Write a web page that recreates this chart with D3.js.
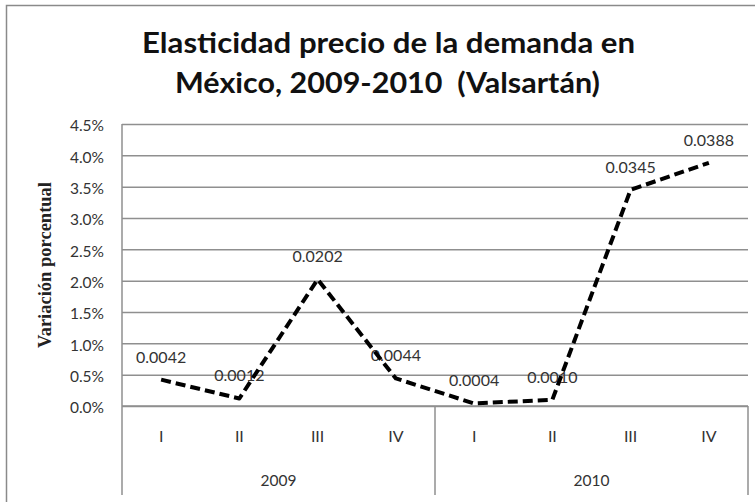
<!DOCTYPE html>
<html>
<head>
<meta charset="utf-8">
<script src="https://cdn.jsdelivr.net/npm/d3@7/dist/d3.min.js"></script>
<style>
  html, body { margin: 0; padding: 0; background: #fff; }
  svg { display: block; }
</style>
</head>
<body>
<script>
// Quarterly price elasticity of demand, Valsartán, Mexico 2009–2010
const years = ["2009", "2010"];
const quarters = ["I", "II", "III", "IV"];
const values = [0.0042, 0.0012, 0.0202, 0.0044, 0.0004, 0.0010, 0.0345, 0.0388];
const valueLabels = ["0.0042", "0.0012", "0.0202", "0.0044", "0.0004", "0.0010", "0.0345", "0.0388"];
const yTicks = [0, 0.005, 0.01, 0.015, 0.02, 0.025, 0.03, 0.035, 0.04, 0.045];
const titleLines = ["Elasticidad precio de la demanda en", "México, 2009-2010  (Valsartán)"];
const yTitle = "Variación porcentual";

const W = 755, H = 502;
const margin = { left: 122, right: 7, top: 124, bottom: 96 };
const plotW = W - margin.left - margin.right;   // 626
const plotH = H - margin.top - margin.bottom;    // 282

const sans = "Lato, 'Open Sans', sans-serif";
const svg = d3.select("body").append("svg").attr("width", W).attr("height", H);

// outer chart frame
svg.append("rect")
  .attr("x", 6.5).attr("y", 5.5).attr("width", 780).attr("height", 520)
  .attr("fill", "#fff").attr("stroke", "#8a8a8a").attr("stroke-width", 1.5);

// title
const titleY = [53, 93], titleLen = [493, 425], titleX = [388.5, 387.5];
titleLines.forEach((t, i) => {
  svg.append("text")
    .attr("x", titleX[i]).attr("y", titleY[i])
    .attr("text-anchor", "middle")
    .attr("font-family", sans)
    .attr("font-weight", "bold")
    .attr("font-size", 28)
    .attr("fill", "#111")
    .attr("textLength", titleLen[i])
    .attr("lengthAdjust", "spacingAndGlyphs")
    .style("white-space", "pre")
    .text(t);
});

const cats = [];
years.forEach(y => quarters.forEach(q => cats.push(y + "-" + q)));

const x = d3.scaleBand().domain(cats).range([margin.left, margin.left + plotW]);
const y = d3.scaleLinear().domain([0, 0.045]).range([margin.top + plotH, margin.top]);

const gridColor = "#8f8f8f";

// horizontal gridlines
svg.append("g")
  .attr("transform", `translate(${margin.left},0)`)
  .call(d3.axisLeft(y).tickValues(yTicks).tickSize(-plotW).tickFormat(""))
  .call(g => g.select(".domain").remove())
  .call(g => g.selectAll("line").attr("stroke", gridColor).attr("stroke-width", 1.5));

// y tick labels
svg.append("g")
  .attr("transform", `translate(${margin.left},0)`)
  .call(d3.axisLeft(y).tickValues(yTicks).tickSize(0).tickPadding(18)
    .tickFormat(d3.format(".1%")))
  .call(g => g.select(".domain").remove())
  .call(g => g.selectAll("text")
    .attr("font-family", sans)
    .attr("font-size", 15.5)
    .attr("fill", "#333")
    .attr("dy", "0.45em"));

// value axis line
svg.append("line")
  .attr("x1", margin.left).attr("x2", margin.left)
  .attr("y1", margin.top).attr("y2", margin.top + plotH)
  .attr("stroke", gridColor).attr("stroke-width", 1.5);

// category axis (two levels)
const axisY = margin.top + plotH;
const axisBottom = 495;
svg.append("line")
  .attr("x1", margin.left).attr("x2", margin.left + plotW)
  .attr("y1", axisY).attr("y2", axisY)
  .attr("stroke", gridColor).attr("stroke-width", 1.5);

const groupEdges = [0, 4, 8].map(i => i < 8 ? x(cats[i]) : x(cats[7]) + x.bandwidth());
svg.append("g").selectAll("line").data(groupEdges).join("line")
  .attr("x1", d => d).attr("x2", d => d)
  .attr("y1", axisY).attr("y2", axisBottom)
  .attr("stroke", gridColor).attr("stroke-width", 1.5);

svg.append("g").selectAll("text").data(cats).join("text")
  .attr("x", d => x(d) + x.bandwidth() / 2)
  .attr("y", 442)
  .attr("text-anchor", "middle")
  .attr("font-family", sans)
  .attr("font-size", 16)
  .attr("fill", "#333")
  .text(d => d.split("-")[1]);

svg.append("g").selectAll("text").data(years).join("text")
  .attr("x", (d, i) => (groupEdges[i] + groupEdges[i + 1]) / 2)
  .attr("y", 486)
  .attr("text-anchor", "middle")
  .attr("font-family", sans)
  .attr("font-size", 15.5)
  .attr("fill", "#333")
  .text(d => d);

// y axis title
svg.append("text")
  .attr("transform", `translate(51,${margin.top + plotH / 2}) rotate(-90)`)
  .attr("text-anchor", "middle")
  .attr("font-family", "'Liberation Serif', 'Times New Roman', serif")
  .attr("font-weight", "bold")
  .attr("font-size", 18)
  .attr("fill", "#222")
  .attr("textLength", 166)
  .attr("lengthAdjust", "spacingAndGlyphs")
  .text(yTitle);

const pts = values.map((v, i) => ({ cx: x(cats[i]) + x.bandwidth() / 2, v, label: valueLabels[i] }));

// data labels
svg.append("g").selectAll("text").data(pts).join("text")
  .attr("x", d => d.cx)
  .attr("y", d => y(d.v) - 17)
  .attr("text-anchor", "middle")
  .attr("font-family", sans)
  .attr("font-size", 16)
  .attr("fill", "#333")
  .text(d => d.label);

// dashed series line
svg.append("path")
  .datum(pts)
  .attr("fill", "none")
  .attr("stroke", "#000")
  .attr("stroke-width", 4)
  .attr("stroke-dasharray", "10,5")
  .attr("stroke-linejoin", "round")
  .attr("d", d3.line().x(d => d.cx).y(d => y(d.v)));
</script>
</body>
</html>
